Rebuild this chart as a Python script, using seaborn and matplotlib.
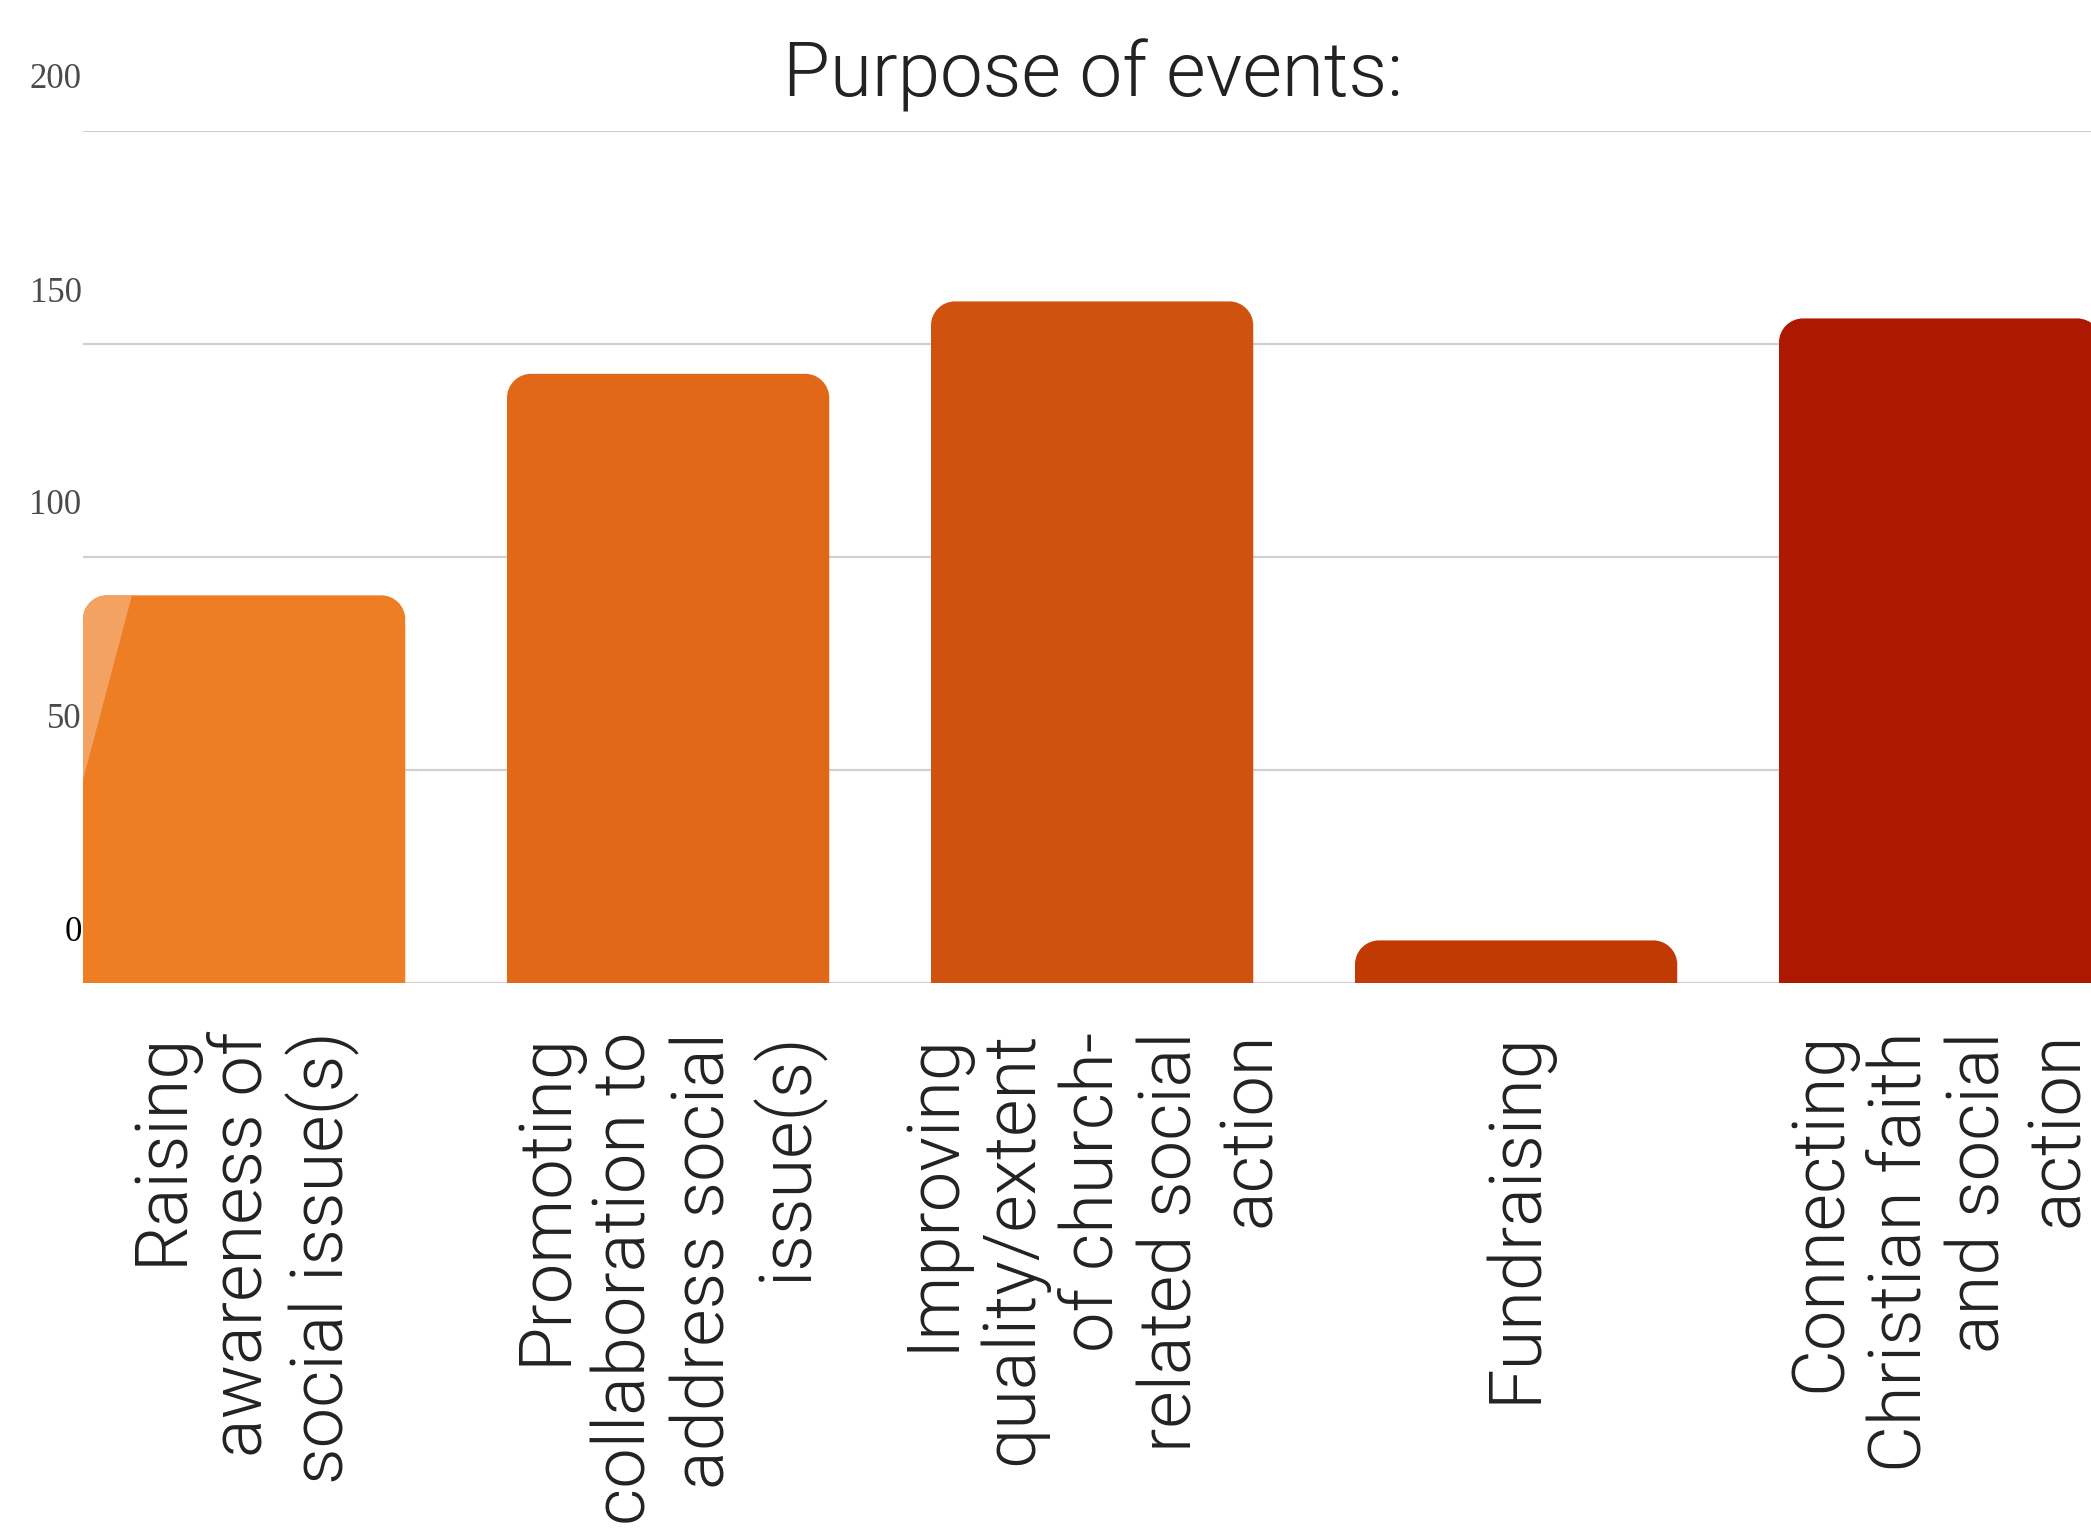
import matplotlib
matplotlib.use("Agg")
import matplotlib.pyplot as plt
import seaborn as sns
import pandas as pd
import numpy as np
from matplotlib.path import Path
from matplotlib.patches import PathPatch, Polygon
from matplotlib.transforms import ScaledTranslation

# ---- data ----
categories = [
    "Raising awareness of social issue(s)",
    "Promoting collaboration to address social issue(s)",
    "Improving quality/extent of church-related social action",
    "Fundraising",
    "Connecting Christian faith and social action",
]
tick_labels = [
    "Raising\nawareness of\nsocial issue(s)",
    "Promoting\ncollaboration to\naddress social\nissue(s)",
    "Improving\nquality/extent\nof church-\nrelated social\naction",
    "Fundraising",
    "Connecting\nChristian faith\nand social\naction",
]
values = [91, 143, 160, 10, 156]
bar_colors = ["#EE7E23", "#E06818", "#CF520F", "#C03A04", "#AD1800"]
y_ticks = [0, 50, 100, 150, 200]
title = "Purpose of events:"

df = pd.DataFrame({"category": categories, "value": values})

sns.set_theme(style="white")
plt.rcParams["font.family"] = ["Roboto", "Liberation Sans", "DejaVu Sans"]
plt.rcParams["font.weight"] = 300

W, H, DPI = 2091, 1530, 100
fig = plt.figure(figsize=(W / DPI, H / DPI), dpi=DPI)
ax = fig.add_axes([83 / W, 1 - 983 / H, (W - 83) / W, (983 - 131) / H])

sns.barplot(data=df, x="category", y="value", hue="category",
            palette=bar_colors, width=0.76, legend=False, ax=ax,
            saturation=1, zorder=3)

ax.set_xlim(-0.38, -0.38 + (W - 83) / 424.0)
ax.set_ylim(0, 200)
ax.set_yticks(y_ticks)
ax.set_xlabel("")
ax.set_ylabel("")
for s in ax.spines.values():
    s.set_visible(False)
ax.yaxis.grid(True, color="#d0d0d0", lw=1.6, zorder=0)
ax.xaxis.grid(False)
ax.set_axisbelow(True)

# rounded top corners
fig.canvas.draw()
px_per_x = ax.transData.transform((1, 0))[0] - ax.transData.transform((0, 0))[0]
px_per_y = ax.transData.transform((0, 1))[1] - ax.transData.transform((0, 0))[1]
r_px = 24
rx = r_px / px_per_x
k = 0.5523
bar_patches = list(ax.patches)
for i, p in enumerate(bar_patches):
    x0, w, h = p.get_x(), p.get_width(), p.get_height()
    fc = p.get_facecolor()
    p.set_visible(False)
    ry = min(r_px / px_per_y, h)
    x1 = x0 + w
    verts = [
        (x0, 0), (x0, h - ry),
        (x0, h - ry + k * ry), (x0 + rx - k * rx, h), (x0 + rx, h),
        (x1 - rx, h),
        (x1 - rx + k * rx, h), (x1, h - ry + k * ry), (x1, h - ry),
        (x1, 0), (x0, 0),
    ]
    codes = [Path.MOVETO, Path.LINETO,
             Path.CURVE4, Path.CURVE4, Path.CURVE4,
             Path.LINETO,
             Path.CURVE4, Path.CURVE4, Path.CURVE4,
             Path.LINETO, Path.CLOSEPOLY]
    pp = PathPatch(Path(verts, codes), facecolor=fc, edgecolor="none", zorder=3)
    ax.add_patch(pp)
    if i == 0:
        hl = Polygon([(x0, h), (x0 + 0.152 * w, h), (x0, 0.524 * h)],
                     closed=True, facecolor="#F3A262", edgecolor="none", zorder=4)
        ax.add_patch(hl)
        hl.set_clip_path(pp)

# x tick labels
ax.set_xticks(range(len(categories)))
ax.set_xticklabels(tick_labels, rotation=90, fontsize=52, color="#222222",
                   fontweight=300, va="top", ha="center",
                   multialignment="right", linespacing=1.17)
ax.tick_params(axis="x", length=0, pad=35)

# y tick labels
ax.tick_params(axis="y", length=0, pad=1)
ax.set_yticklabels([str(v) for v in y_ticks], fontsize=25,
                   fontfamily="Liberation Serif", fontweight="normal")
offset = ScaledTranslation(0, 55 / DPI, fig.dpi_scale_trans)
for lab, v in zip(ax.get_yticklabels(), y_ticks):
    lab.set_transform(lab.get_transform() + offset)
    lab.set_color("#000000" if v == 0 else "#4a4a4a")

fig.text(1093 / W, 1 - 96 / H, title, fontsize=55, color="#222222",
         fontweight=300, ha="center", va="baseline")

fig.savefig("out.png", dpi=DPI)
